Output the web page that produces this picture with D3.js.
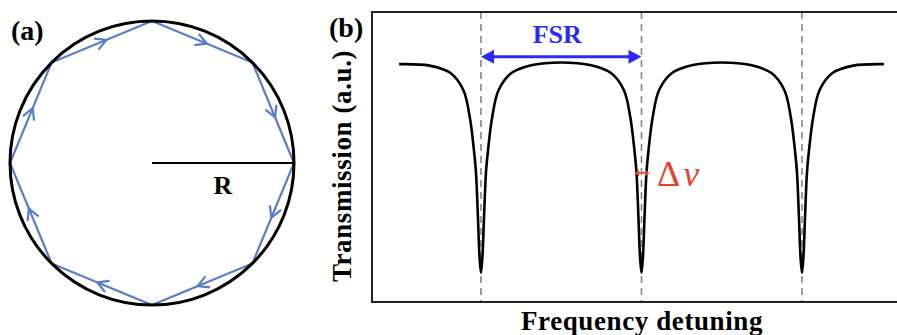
<!DOCTYPE html>
<html><head><meta charset="utf-8">
<script src="https://cdn.jsdelivr.net/npm/d3@7"></script>
<style>
html,body{margin:0;padding:0;background:#fff;}
svg{display:block;}
text{font-family:"Liberation Serif","Times New Roman",serif;}
</style></head>
<body>
<script>
// ---- Panel (a): ray path in a circular cavity (unit radius) ----
const vertexAnglesDeg = [90, 45, 0, -45, -90, -135, 180, 135];   // clockwise path on screen
const cavityRadius = 1;
const radiusLabel = "R";

// ---- Panel (b): transmission spectrum ----
const detuning = [-1.51,-1.32,-1.19,-1.11,-1.07,-1.044,-1.031,-1.019,-1.009,-1.0,
  -0.991,-0.981,-0.969,-0.956,-0.93,-0.89,-0.81,-0.68,-0.5,
  -0.32,-0.19,-0.11,-0.07,-0.044,-0.031,-0.019,-0.009,0,
  0.009,0.019,0.031,0.044,0.07,0.11,0.19,0.32,0.5,
  0.68,0.81,0.89,0.93,0.956,0.969,0.981,0.991,1.0,
  1.009,1.019,1.031,1.044,1.07,1.11,1.19,1.32,1.51];
const transmission = [0.985,0.978,0.943,0.863,0.736,0.58,0.472,0.264,0.075,0,
  0.075,0.264,0.472,0.58,0.736,0.863,0.943,0.981,0.993,
  0.981,0.943,0.863,0.736,0.58,0.472,0.264,0.075,0,
  0.075,0.264,0.472,0.58,0.736,0.863,0.943,0.981,0.993,
  0.981,0.943,0.863,0.736,0.58,0.472,0.264,0.075,0,
  0.075,0.264,0.472,0.58,0.736,0.863,0.943,0.978,0.985];
const resonances = [-1, 0, 1];
const fsrSpan = [-1, 0];
const fsrLevel = 1.02;
const linewidthSpan = [-0.044, 0.05];
const linewidthLevel = 0.472;
const xDomainB = [-1.679, 1.66];
const yDomainB = [-0.137, 1.231];
const labels = {a:"(a)", b:"(b)", fsr:"FSR", dnu:"Δν", xTitle:"Frequency detuning", yTitle:"Transmission (a.u.)"};

const W = 897, H = 335;
const svg = d3.select("body").append("svg").attr("width", W).attr("height", H);

// ===== Panel (a) =====
const xa = d3.scaleLinear().domain([-1, 1]).range([10, 294]);
const ya = d3.scaleLinear().domain([-1, 1]).range([305, 21]);
const ga = svg.append("g");
const rPx = xa(cavityRadius) - xa(0);
const blue = "#5b7cc6";

const verts = vertexAnglesDeg.map(a => {
  const t = a * Math.PI / 180;
  return [xa(cavityRadius * Math.cos(t)), ya(cavityRadius * Math.sin(t))];
});
ga.append("path")
  .attr("d", d3.line()(verts.concat([verts[0]])))
  .attr("fill", "none").attr("stroke", blue).attr("stroke-width", 2.2).attr("stroke-linejoin", "miter");

// chevrons
verts.forEach((p, i) => {
  const q = verts[(i + 1) % verts.length];
  const dx = q[0] - p[0], dy = q[1] - p[1];
  const L = Math.hypot(dx, dy), ux = dx / L, uy = dy / L, nx = -uy, ny = ux;
  const mx = (p[0] + q[0]) / 2 + ux * 5, my = (p[1] + q[1]) / 2 + uy * 5;
  const a1 = [mx - ux * 11 + nx * 6, my - uy * 11 + ny * 6];
  const a2 = [mx - ux * 11 - nx * 6, my - uy * 11 - ny * 6];
  ga.append("path").attr("d", d3.line()([a1, [mx, my], a2]))
    .attr("fill", "none").attr("stroke", blue).attr("stroke-width", 2.2);
});

ga.append("circle").attr("cx", xa(0)).attr("cy", ya(0)).attr("r", rPx)
  .attr("fill", "none").attr("stroke", "#000").attr("stroke-width", 3);

ga.append("line").attr("x1", xa(0)).attr("y1", ya(0)).attr("x2", xa(cavityRadius)).attr("y2", ya(0))
  .attr("stroke", "#000").attr("stroke-width", 2.2);
ga.append("text").attr("x", xa(cavityRadius / 2)).attr("y", 194).attr("text-anchor", "middle")
  .attr("font-size", 26).attr("font-weight", "bold").text(radiusLabel);
ga.append("text").attr("x", 11).attr("y", 40)
  .attr("font-size", 28).attr("font-weight", "bold").text(labels.a);

// ===== Panel (b) =====
const xb = d3.scaleLinear().domain(xDomainB).range([372, 372 + (xDomainB[1] - xDomainB[0]) * 160.5]);
const yb = d3.scaleLinear().domain(yDomainB).range([302, 12]);
const gb = svg.append("g");

// dashed resonance lines
gb.selectAll("line.res").data(resonances).enter().append("line")
  .attr("x1", d => xb(d)).attr("x2", d => xb(d))
  .attr("y1", yb(yDomainB[1])).attr("y2", yb(yDomainB[0]))
  .attr("stroke", "#7f7f7f").attr("stroke-width", 1.5).attr("stroke-dasharray", "7,5");

// spectrum
const pts = detuning.map((d, i) => [xb(d), yb(transmission[i])]);
gb.append("path").attr("d", d3.line().curve(d3.curveCatmullRom.alpha(0.5))(pts))
  .attr("fill", "none").attr("stroke", "#000").attr("stroke-width", 2.6);

// frame
gb.append("rect").attr("x", xb(xDomainB[0])).attr("y", yb(yDomainB[1]))
  .attr("width", xb(xDomainB[1]) - xb(xDomainB[0])).attr("height", yb(yDomainB[0]) - yb(yDomainB[1]))
  .attr("fill", "none").attr("stroke", "#222").attr("stroke-width", 2);

// FSR arrow
const fsrBlue = "#2b2bf2";
const fy = yb(fsrLevel), fx1 = xb(fsrSpan[0]), fx2 = xb(fsrSpan[1]);
const hl = 13, hw = 7;
gb.append("line").attr("x1", fx1 + hl - 1).attr("x2", fx2 - hl + 1).attr("y1", fy).attr("y2", fy)
  .attr("stroke", fsrBlue).attr("stroke-width", 3);
gb.append("path").attr("d", `M${fx1},${fy} L${fx1 + hl},${fy - hw} L${fx1 + hl},${fy + hw} Z`).attr("fill", fsrBlue);
gb.append("path").attr("d", `M${fx2},${fy} L${fx2 - hl},${fy - hw} L${fx2 - hl},${fy + hw} Z`).attr("fill", fsrBlue);
gb.append("text").attr("x", (fx1 + fx2) / 2 - 4).attr("y", 43).attr("text-anchor", "middle")
  .attr("font-size", 26).attr("font-weight", "bold").attr("fill", fsrBlue).text(labels.fsr);

// linewidth arrow (drawn over the curve)
const red = "#e8412c";
const ly = yb(linewidthLevel), lx1 = xb(linewidthSpan[0]), lx2 = xb(linewidthSpan[1]);
gb.append("line").attr("x1", lx1 + 3).attr("x2", lx2 - 3).attr("y1", ly).attr("y2", ly)
  .attr("stroke", red).attr("stroke-width", 1.6);
gb.append("path").attr("d", `M${lx1},${ly} L${lx1 + 4.5},${ly - 3.5} L${lx1 + 4.5},${ly + 3.5} Z`).attr("fill", red);
gb.append("path").attr("d", `M${lx2},${ly} L${lx2 - 4.5},${ly - 3.5} L${lx2 - 4.5},${ly + 3.5} Z`).attr("fill", red);
const dn = gb.append("text").attr("x", 657).attr("y", 186).attr("font-size", 36).attr("fill", red);
dn.append("tspan").text("Δ");
dn.append("tspan").attr("font-style", "italic").attr("dx", 3).text("ν");

// titles
gb.append("text").attr("x", 642).attr("y", 330).attr("text-anchor", "middle")
  .attr("font-size", 27).attr("font-weight", "bold").attr("letter-spacing", 0.6).text(labels.xTitle);
gb.append("text").attr("transform", "translate(351,166) rotate(-90)").attr("text-anchor", "middle")
  .attr("font-size", 27).attr("font-weight", "bold").attr("letter-spacing", 0.6).text(labels.yTitle);
gb.append("text").attr("x", 329).attr("y", 37)
  .attr("font-size", 28).attr("font-weight", "bold").text(labels.b);
</script>
</body></html>
